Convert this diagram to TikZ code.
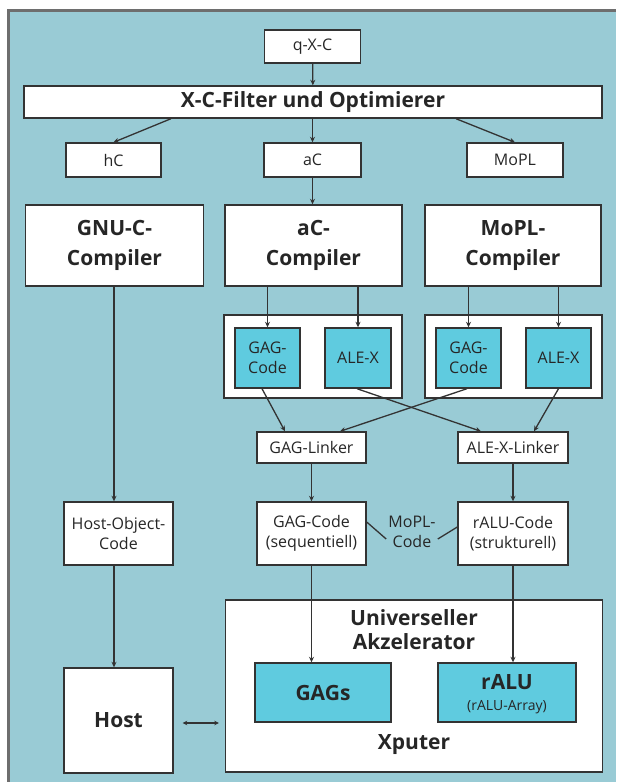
\documentclass[tikz,border=0pt]{standalone}
\usepackage{fontspec}
\setmainfont{Open Sans}
\usetikzlibrary{arrows.meta,calc}
\definecolor{bgteal}{HTML}{99CBD5}
\definecolor{cyanfill}{HTML}{5FCBDF}
\definecolor{frameg}{HTML}{6E6E6E}
\definecolor{edgec}{HTML}{333333}
\begin{document}
\begin{tikzpicture}[x=1pt,y=-1pt,
  box/.style={draw=edgec, line width=1.4pt, fill=white, inner sep=0pt, align=center, text=black!85},
  cbox/.style={box, fill=cyanfill},
  sz/.style 2 args={minimum width=#1pt, minimum height=#2pt},
  bl/.style={font=\fontsize{21}{28}\selectfont\bfseries},
  sm/.style={font=\fontsize{16}{20}\selectfont},
  tiny/.style={font=\fontsize{14}{18}\selectfont},
  arr/.style={-{Stealth[length=5.5pt,width=5pt]}, line width=1.3pt, draw=edgec},
  dbl/.style={{Stealth[length=4.5pt,width=4.5pt]}-{Stealth[length=4.5pt,width=4.5pt]}, line width=1.3pt, draw=edgec},
  ln/.style={line width=1.3pt, draw=edgec}
]
\useasboundingbox (0,0) rectangle (616,782);
\fill[white] (0,0) rectangle (616,782);
\fill[bgteal] (8,10) rectangle (616,782);
\draw[frameg, line width=3pt] (8,782) -- (8,10) -- (616,10);

% top
\node[box, sm, sz={96}{33}] (qxc) at (312.5,46.5) {q-X-C};
\node[box, bl, sz={578}{32}] (filter) at (313,102) {X-C-Filter und Optimierer};
\node[box, sm, sz={95}{34}] (hc) at (113.5,160) {hC};
\node[box, sm, sz={97}{34}] (ac) at (312.5,160) {aC};
\node[box, sm, sz={96}{34}] (mopl) at (515,160) {MoPL};

% compilers
\node[box, font=\fontsize{21}{30}\selectfont\bfseries, sz={178}{81}] (gnu) at (114.5,245.5) {GNU-C-\\Compiler};
\node[box, font=\fontsize{21}{30}\selectfont\bfseries, sz={177}{81}] (acc) at (313.5,245.5) {aC-\\Compiler};
\node[box, font=\fontsize{21}{30}\selectfont\bfseries, sz={176}{81}] (mopc) at (513,245.5) {MoPL-\\Compiler};

% groups
\node[box, sz={178}{83}] (grp1) at (313,356.5) {};
\node[cbox, sm, sz={65}{60}] (gag1) at (267.5,358) {GAG-\\Code};
\node[cbox, sm, sz={66}{60}] (ale1) at (358,358) {ALE-X};
\node[box, sz={177}{83}] (grp2) at (513.5,356.5) {};
\node[cbox, sm, sz={65}{60}] (gag2) at (468.5,358) {GAG-\\Code};
\node[cbox, sm, sz={65}{60}] (ale2) at (558.5,358) {ALE-X};

% linkers
\node[box, sm, sz={109}{31}] (gagl) at (311.5,447.5) {GAG-Linker};
\node[box, sm, sz={110}{31}] (alel) at (513,447.5) {ALE-X-Linker};

% codes
\node[box, sm, sz={109}{63}] (hoc) at (118.5,533.5) {Host-Object-\\Code};
\node[box, sm, sz={109}{63}] (gseq) at (311.5,533.5) {GAG-Code\\(sequentiell)};
\node[box, sm, sz={110}{63}] (rcode) at (513,533.5) {rALU-Code\\(strukturell)};
\node[sm, align=center, inner sep=2pt, text=black!85] (mc) at (412,532) {MoPL-\\Code};

% bottom
\node[box, sz={377}{172}] (xputer) at (414,686) {};
\node[align=center, font=\fontsize{21}{24}\selectfont\bfseries, text=black!85] (ua) at (414,630) {Universeller\\Akzelerator};
\node[bl, text=black!85] (xp) at (414,745) {Xputer};
\node[cbox, bl, sz={136}{59}] (gags) at (323,692.5) {GAGs};
\node[cbox, sz={138}{59}] (ralu) at (507,692.5) {};
\node[bl, text=black!85, inner sep=0pt] (raluT) at (507,682) {rALU};
\node[tiny, text=black!85, inner sep=0pt] (raluS) at (507,707) {(rALU-Array)};
\node[box, bl, sz={109}{105}] (host) at (118.5,720.5) {Host};

% connectors top
\draw[arr] (qxc) -- (filter);
\draw[arr] ([xshift=-142pt]filter.south) -- (hc.north);
\draw[arr] (filter.south -| ac.north) -- (ac.north);
\draw[arr] ([xshift=143pt]filter.south) -- (mopl.north);
\draw[arr] (ac.south) -- (ac.south |- acc.north);

% compilers to groups
\draw[arr] (gag1.north |- acc.south) -- (gag1.north);
\draw[arr] (ale1.north |- acc.south) -- (ale1.north);
\draw[arr] (gag2.north |- mopc.south) -- (gag2.north);
\draw[arr] (ale2.north |- mopc.south) -- (ale2.north);

% to linkers
\draw[arr] ([xshift=-5.5pt]gag1.south) -- ([xshift=-26.5pt]gagl.north);
\draw[arr] ([xshift=-1pt]ale1.south) -- ([xshift=-32pt]alel.north);
\draw[arr] ([xshift=-1.5pt]gag2.south) -- ([xshift=28.5pt]gagl.north);
\draw[arr] (ale2.south) -- ([xshift=21pt]alel.north);

\draw[arr] (gagl.south) -- (gseq.north);
\draw[arr] (alel.south) -- (rcode.north);

% MoPL-Code
\draw[ln] ([yshift=11.5pt]gseq.east) -- ([yshift=-7pt]mc.west);
\draw[ln] ([yshift=-7pt]mc.east) -- ([yshift=6.5pt]rcode.west);

% host branch
\draw[arr] ([xshift=-0.5pt]gnu.south) -- ([xshift=-0.5pt]gnu.south |- hoc.north);
\draw[arr] ([xshift=-4.5pt]hoc.south) -- ([xshift=-4.5pt]hoc.south |- host.north);

% to accelerator
\draw[arr] (gseq.south) -- (gseq.south |- gags.north);
\draw[arr] (rcode.south) -- (rcode.south |- ralu.north);

\draw[dbl] ([xshift=9pt,yshift=-2.5pt]host.east) -- ([xshift=-6pt,yshift=-2.5pt]host.east -| xputer.west);
\end{tikzpicture}
\end{document}
